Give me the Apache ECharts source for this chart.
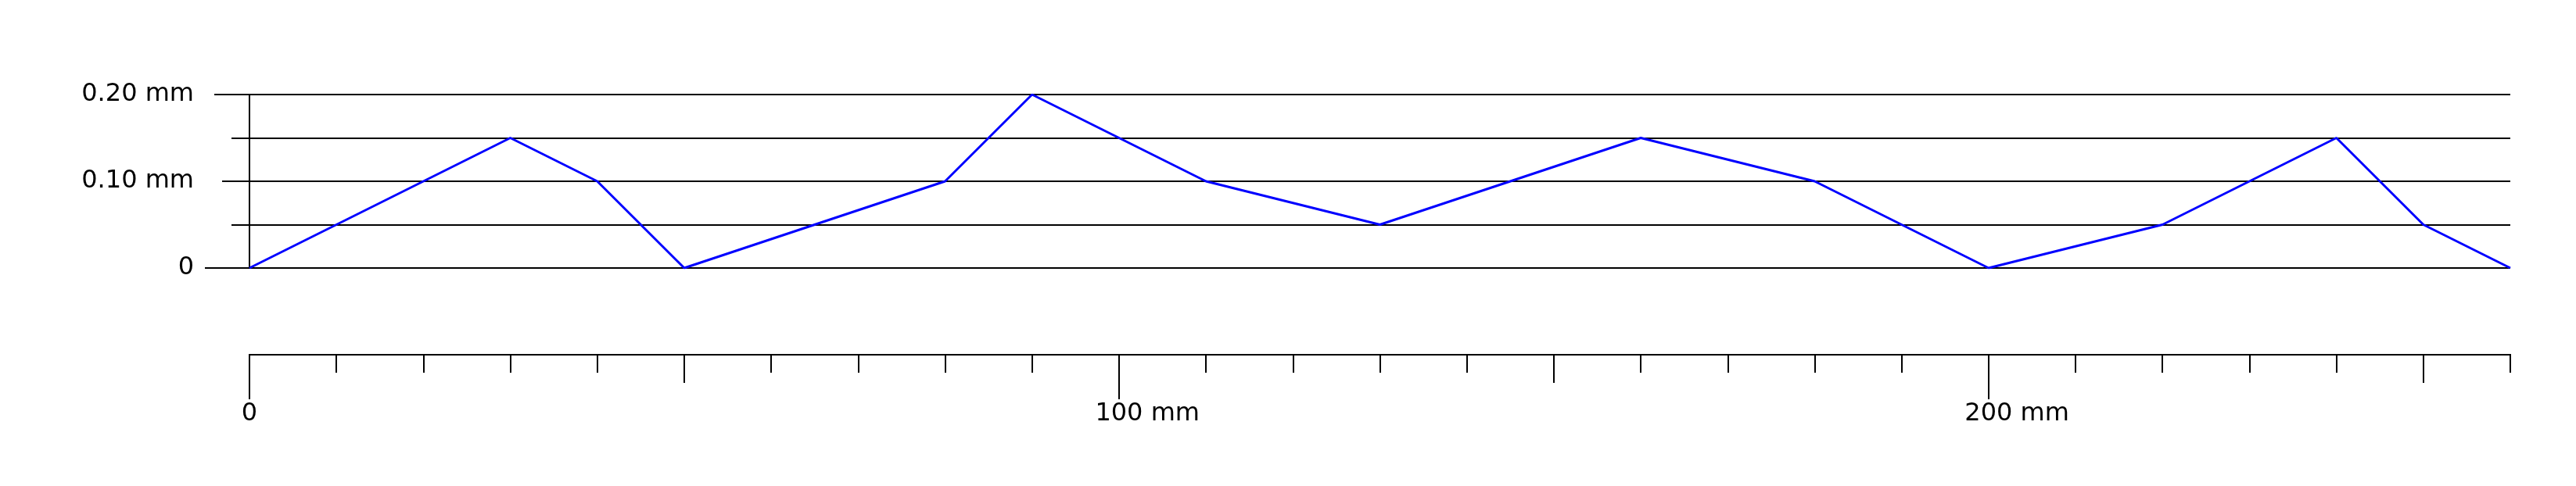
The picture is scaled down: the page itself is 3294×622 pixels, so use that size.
<!DOCTYPE html>
<html>
<head>
<meta charset="utf-8">
<script src="https://cdn.jsdelivr.net/npm/echarts@6/dist/echarts.min.js"></script>
<style>
  html, body { margin: 0; padding: 0; background: #ffffff; }
  #chart { width: 3294px; height: 622px; }
</style>
</head>
<body>
<div id="chart"></div>
<script>
// Position along the part (mm)
const xPositions = [0, 30, 40, 50, 80, 90, 110, 130, 160, 180, 200, 220, 240, 250, 260];
// Deviation (mm)
const yDeviation = [0, 0.15, 0.10, 0, 0.10, 0.20, 0.10, 0.05, 0.15, 0.10, 0, 0.05, 0.15, 0.05, 0];

// Tick labels
const xTickValues = [0, 100, 200];
const xTickLabels = ['0', '100 mm', '200 mm'];
const yTickValues = [0, 0.10, 0.20];
const yTickLabels = ['0', '0.10 mm', '0.20 mm'];

const xMin = 0, xMax = 260, xStep = 10;
const xMidTicks = [50, 150, 250];
const yMin = 0, yMax = 0.20, yStep = 0.05;

const FONT = 'DejaVu Sans';
const black = '#000000';

function xLabel(v) {
  const i = xTickValues.indexOf(v);
  const s = i >= 0 ? xTickLabels[i] : '';
  const sp = s.indexOf(' ');
  if (sp < 0) return '{n|' + s + '}';
  const num = s.slice(0, sp), unit = s.slice(sp);
  return '{p|' + unit + '}{n|' + num + '}{u|' + unit + '}';
}
function yLabel(v) {
  for (let i = 0; i < yTickValues.length; i++) {
    if (Math.abs(yTickValues[i] - v) < 1e-9) return yTickLabels[i];
  }
  return '';
}

const lineData = xPositions.map((x, i) => [x, yDeviation[i]]);

function xAxisBase(extra) {
  return Object.assign({
    type: 'value', min: xMin, max: xMax, position: 'bottom', offset: 111,
    axisLine: { show: true, onZero: false, lineStyle: { color: black, width: 2 } },
    splitLine: { show: false },
    axisLabel: { show: false }
  }, extra);
}
function yAxisBase(extra) {
  return Object.assign({
    type: 'value', min: yMin, max: yMax, interval: yStep, position: 'left',
    axisLine: { show: true, onZero: false, lineStyle: { color: black, width: 2 } },
    splitLine: { show: false },
    axisLabel: { show: false }
  }, extra);
}

const txt = { fontFamily: FONT, fontSize: 32, color: black };

const option = {
  backgroundColor: '#ffffff',
  animation: false,
  grid: { left: 319, top: 121, width: 2891, height: 222, containLabel: false },
  xAxis: [
    xAxisBase({
      interval: xStep,
      axisTick: { show: true, length: 23, lineStyle: { color: black, width: 2 } },
      axisLabel: {
        show: true, customValues: xTickValues, margin: 60,
        formatter: xLabel,
        fontFamily: FONT, fontSize: 32, color: black,
        rich: {
          n: txt,
          u: txt,
          p: Object.assign({}, txt, { color: 'rgba(0,0,0,0)' })
        }
      }
    }),
    xAxisBase({
      axisTick: { show: true, customValues: xMidTicks, length: 36, lineStyle: { color: black, width: 2 } }
    }),
    xAxisBase({
      axisTick: { show: true, customValues: xTickValues, length: 57, lineStyle: { color: black, width: 2 } }
    })
  ],
  yAxis: [
    yAxisBase({
      splitLine: { show: true, lineStyle: { color: black, width: 2 } },
      axisTick: { show: true, length: 23, lineStyle: { color: black, width: 2 } },
      axisLabel: {
        show: true, customValues: yTickValues, margin: 71,
        formatter: yLabel,
        fontFamily: FONT, fontSize: 32, color: black
      }
    }),
    yAxisBase({ axisTick: { show: true, customValues: [yTickValues[2]], length: 45, lineStyle: { color: black, width: 2 } } }),
    yAxisBase({ axisTick: { show: true, customValues: [yTickValues[1]], length: 35, lineStyle: { color: black, width: 2 } } }),
    yAxisBase({ axisTick: { show: true, customValues: [yTickValues[0]], length: 57, lineStyle: { color: black, width: 2 } } })
  ],
  series: [{
    type: 'line',
    xAxisIndex: 0,
    yAxisIndex: 0,
    data: lineData,
    symbol: 'none',
    lineStyle: { color: '#0000ff', width: 3 },
    z: 5
  }]
};

const chart = echarts.init(document.getElementById('chart'), null, { renderer: 'canvas' });
chart.setOption(option);
</script>
</body>
</html>
